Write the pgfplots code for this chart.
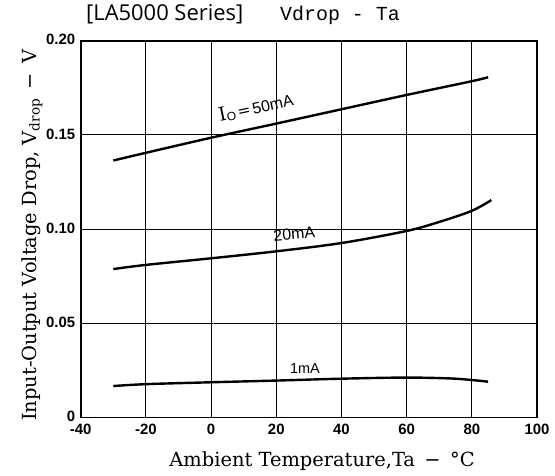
\documentclass[border=0pt]{standalone}
\usepackage{fontspec}
\setmainfont{DejaVu Serif}
\newfontfamily\tickfont{Liberation Sans}
\newfontfamily\titlefont{Open Sans}
\newfontfamily\titlemono{Liberation Mono}
\newfontfamily\curvefont{Liberation Sans}
\usepackage{pgfplots}
\pgfplotsset{compat=1.18}
\begin{document}
\begin{tikzpicture}
\begin{axis}[
  scale only axis, width=456.3bp, height=376.8bp,
  xmin=-40, xmax=100, ymin=0, ymax=0.2,
  clip=false,
  xtick={-40,-20,0,20,40,60,80,100},
  xticklabels={-40,-20,0,20,40,60,80,100},
  ytick={0,0.05,0.1,0.15,0.2},
  yticklabels={0,0.05,0.10,0.15,0.20},
  grid=major,
  major grid style={black, line width=1.1bp},
  axis line style={black, line width=1.8bp},
  major tick length=0pt,
  tick label style={font=\fontsize{15}{15}\tickfont\bfseries},
  xticklabel style={yshift=-3bp},
  yticklabel style={xshift=-2bp, yshift=1bp},
  xlabel={Ambient Temperature,Ta \,−\, °C},
  ylabel={Input-Output Voltage Drop, V\textsubscript{drop} \,−\, V},
  label style={font=\fontsize{19.5}{19.5}\selectfont},
  xlabel style={at={(axis description cs:0.529,-0.1306)}, anchor=base},
  ylabel style={at={(axis description cs:-0.1067,0.484)}, anchor=center, rotate=0},
]
\addplot[black, line width=2.4bp, smooth] coordinates {
  (-30,0.1364) (-20,0.1405) (0,0.1485) (20,0.1560) (40,0.1636) (60,0.1712) (80,0.1785) (85,0.1806)};
\addplot[black, line width=2.4bp, smooth] coordinates {
  (-30,0.0788) (-20,0.0810) (0,0.0845) (20,0.0882) (40,0.0926) (60,0.0990) (70,0.1038) (80,0.1097) (86,0.1154)};
\addplot[black, line width=2.4bp, smooth] coordinates {
  (-30,0.0167) (-20,0.0177) (0,0.0187) (20,0.0196) (40,0.0206) (60,0.0212) (75,0.0206) (85,0.0190)};

\node[rotate=12, inner sep=0] at (axis cs:13.8,0.1645)
  {{\fontsize{19}{19}\selectfont I}\raisebox{-2bp}{\fontsize{12}{12}\curvefont O}\hspace{2bp}{\fontsize{16}{16}\selectfont =}\hspace{2bp}{\fontsize{16}{16}\curvefont 50mA}};
\node[rotate=5, inner sep=0] at (axis cs:25.5,0.0975) {\fontsize{16}{16}\curvefont 20mA};
\node[inner sep=0] at (axis cs:28.8,0.0262) {\fontsize{14.5}{14.5}\curvefont 1mA};

\node[anchor=base west, inner sep=0, xshift=5.3bp, yshift=20.2bp] at (rel axis cs:0,1)
  {\fontsize{22}{22}\titlefont [LA5000 Series]};
\node[anchor=base west, inner sep=0, xshift=199.3bp, yshift=20.2bp] at (rel axis cs:0,1)
  {\fontsize{20}{20}\titlemono Vdrop - Ta};

\coordinate (sw) at (rel axis cs:0,0);
\coordinate (ne) at (rel axis cs:1,1);
\end{axis}
\pgfresetboundingbox
\path ([xshift=-80.7bp,yshift=-58.5bp]sw) rectangle ([xshift=18bp,yshift=40.7bp]ne);
\end{tikzpicture}
\end{document}
